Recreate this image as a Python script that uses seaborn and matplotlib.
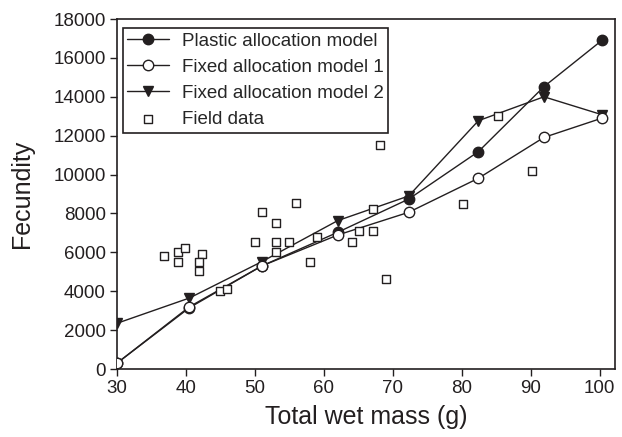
import matplotlib
matplotlib.use("Agg")
import matplotlib.pyplot as plt
import seaborn as sns
import pandas as pd

# Model predictions of fecundity against total wet mass
model_mass = [30.0, 40.5, 51.0, 62.0, 72.3, 82.4, 91.9, 100.3]
plastic_alloc = [300, 3150, 5300, 7030, 8740, 11180, 14520, 16900]
fixed_alloc_1 = [300, 3200, 5300, 6890, 8060, 9810, 11910, 12900]
fixed_alloc_2 = [2350, 3650, 5520, 7630, 8900, 12770, 14000, 13080]

# Field observations
field_mass = [36.8, 38.9, 38.9, 39.9, 42.4, 41.9, 41.9, 44.9, 45.9, 50.0,
              51.0, 53.0, 53.0, 53.0, 55.0, 56.0, 58.0, 59.0, 65.1, 67.1,
              64.1, 67.1, 69.0, 68.1, 80.1, 85.2, 90.2]
field_fecundity = [5810, 6030, 5520, 6220, 5930, 5500, 5040, 4010, 4130, 6520,
                   8090, 7520, 6520, 6030, 6520, 8520, 5520, 6800, 7110, 7110,
                   6520, 8210, 4630, 11520, 8500, 13010, 10200]

x_ticks = [30, 40, 50, 60, 70, 80, 90, 100]
y_ticks = [0, 2000, 4000, 6000, 8000, 10000, 12000, 14000, 16000, 18000]

sns.set_style("ticks")
plt.rcParams["font.family"] = ["Liberation Sans", "DejaVu Sans"]

ink = "#231f20"

fig = plt.figure(figsize=(6.22, 4.37), dpi=100)
ax = fig.add_axes([0.188, 0.1556, 0.8007, 0.8009])

models = pd.DataFrame({
    "mass": model_mass,
    "plastic": plastic_alloc,
    "fixed1": fixed_alloc_1,
    "fixed2": fixed_alloc_2,
})
field = pd.DataFrame({"mass": field_mass, "fecundity": field_fecundity})

line_kw = dict(color=ink, linewidth=1.0, markersize=7.5, sort=False,
               markeredgecolor=ink, markeredgewidth=1.0)

sns.lineplot(data=models, x="mass", y="plastic", ax=ax, marker="o",
             markerfacecolor=ink, label="Plastic allocation model",
             zorder=3, **line_kw)
sns.lineplot(data=models, x="mass", y="fixed1", ax=ax, marker="o",
             markerfacecolor="white", label="Fixed allocation model 1",
             zorder=4, **line_kw)
sns.lineplot(data=models, x="mass", y="fixed2", ax=ax, marker="v",
             markerfacecolor=ink, label="Fixed allocation model 2",
             zorder=3, **line_kw)
sns.scatterplot(data=field, x="mass", y="fecundity", ax=ax, marker="s",
                s=36, facecolor="white", edgecolor=ink, linewidth=1.0,
                label="Field data", zorder=5)

ax.set_xlim(30, 102.2)
ax.set_ylim(0, 18000)
ax.set_xticks(x_ticks)
ax.set_yticks(y_ticks)
ax.tick_params(axis="both", direction="out", length=5, width=1,
               labelsize=13.5, colors=ink, pad=3)
for side in ["top", "right", "left", "bottom"]:
    ax.spines[side].set_visible(True)
    ax.spines[side].set_linewidth(1.2)
    ax.spines[side].set_color(ink)

ax.set_xlabel("Total wet mass (g)", fontsize=18, color=ink, labelpad=6)
ax.set_ylabel("Fecundity", fontsize=18, color=ink, labelpad=14)

leg = ax.legend(loc="upper left", bbox_to_anchor=(0.012, 0.974),
                fontsize=13.5, frameon=True, fancybox=False,
                edgecolor=ink, framealpha=1, handlelength=2.2,
                handletextpad=0.7, labelspacing=0.48, borderpad=0.24,
                borderaxespad=0.0)
leg.get_frame().set_linewidth(1.2)
leg.set_zorder(2)

fig.savefig("out.png", dpi=100)
